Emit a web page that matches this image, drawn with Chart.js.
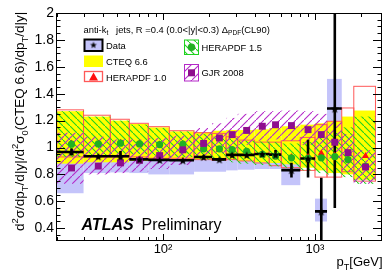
<!DOCTYPE html>
<html><head><meta charset="utf-8">
<script src="https://cdn.jsdelivr.net/npm/chart.js@4/dist/chart.umd.min.js"></script>
<style>html,body{margin:0;padding:0;background:#fff}canvas{display:block}</style>
</head><body>
<canvas id="c" width="389" height="277"></canvas>
<script>
// ---------------- data ----------------
const binEdges = [20,30,45,60,80,110,160,210,260,310,400,500,600,800,1000,1200,1500,1800,2500];

// measured data (first 16 bins)
const dataValues   = [0.967,0.935,0.935,0.912,0.908,0.905,0.93,0.912,0.945,0.945,0.952,0.947,0.832,0.918,0.525,1.29];
const dataStatErr  = [0.025,0.012,0.04,0.02,0.008,0.008,0.012,0.008,0.012,0.012,0.02,0.035,0.055,0.14,0.25,0.74];
const dataSystLow  = [0.66,0.81,0.815,0.81,0.80,0.80,0.82,0.82,0.83,0.835,0.84,0.84,0.72,0.86,0.45,1.05];
const dataSystHigh = [1.25,1.07,1.06,1.03,1.03,1.02,1.06,1.03,1.08,1.08,1.09,1.08,0.95,0.98,0.62,1.51];

// CTEQ 6.6 uncertainty band
const cteqLow  = [0.88,0.89,0.89,0.90,0.90,0.90,0.91,0.91,0.91,0.90,0.89,0.885,0.875,0.85,0.83,0.81,0.80,0.76];
const cteqHigh = [1.27,1.23,1.20,1.175,1.15,1.12,1.115,1.125,1.13,1.13,1.135,1.145,1.158,1.17,1.18,1.195,1.23,1.275];

// HERAPDF 1.0
const hera10Central = [1.03,1.03,1.035,1.03,1.025,1.025,0.99,0.985,0.98,0.97,0.95,0.94,0.93,0.93,0.957,0.94,0.91,0.937];
const hera10Low  = [0.93,0.93,0.93,0.93,0.92,0.92,0.91,0.905,0.91,0.90,0.885,0.865,0.85,0.83,0.78,0.78,0.82,0.75];
const hera10High = [1.28,1.24,1.21,1.18,1.155,1.125,1.11,1.105,1.08,1.055,1.04,1.04,1.05,1.075,1.17,1.195,1.294,1.455];

// HERAPDF 1.5
const hera15Central = [1.025,1.027,1.032,1.027,1.022,1.025,0.99,0.99,0.984,0.972,0.95,0.937,0.923,0.92,0.923,0.932,0.91,0.86];
const hera15Low  = [0.93,0.94,0.95,0.95,0.94,0.93,0.91,0.90,0.89,0.88,0.87,0.86,0.85,0.83,0.81,0.80,0.78,0.73];
const hera15High = [1.27,1.23,1.20,1.17,1.145,1.12,1.10,1.08,1.07,1.05,1.045,1.04,1.03,1.04,1.08,1.12,1.15,1.23];

// GJR 2008
const gjrCentral = [0.848,0.862,0.886,0.905,0.94,0.983,1.03,1.071,1.096,1.127,1.158,1.169,1.163,1.133,1.096,1.039,0.962,0.855];
const gjrLow  = [0.73,0.80,0.81,0.82,0.84,0.87,0.92,0.96,0.99,1.02,1.05,1.06,1.05,1.02,0.98,0.92,0.82,0.73];
const gjrHigh = [1.11,1.08,1.06,1.06,1.07,1.09,1.145,1.18,1.22,1.25,1.27,1.27,1.275,1.27,1.25,1.19,1.10,0.98];

// axes
const yTicks      = [0.4,0.6,0.8,1,1.2,1.4,1.6,1.8,2];
const yTickLabels = ['0.4','0.6','0.8','1','1.2','1.4','1.6','1.8','2'];
const yMinorTicks = [0.35,0.45,0.5,0.55,0.65,0.7,0.75,0.85,0.9,0.95,1.05,1.1,1.15,1.25,1.3,1.35,1.45,1.5,1.55,1.65,1.7,1.75,1.85,1.9,1.95];
const xTicks      = [20,30,40,50,60,70,80,90,100,200,300,400,500,600,700,800,900,1000,2000];
const xMajorTicks = [100,1000];
const xTickLabels = ['10\u00B2','10\u00B3'];

// ---------------- style ----------------
const FONT = '"Liberation Sans", Arial, Helvetica, sans-serif';
const BLUE = 'rgb(196,196,250)';
const YELLOW = '#ffff00';
const RED = '#ff5858';
const RED_MK = '#ff1010';
const GREEN = '#1ed21e';
const GREEN_MK = '#22b022';
const PURPLE = '#b428c8';
const PURPLE_MK = '#8e0e8e';

const binCenters = binEdges.slice(0,-1).map((e,i)=>(e+binEdges[i+1])/2);

function starCanvas(r, color){
  const s = 10;
  const c = document.createElement('canvas'); c.width = c.height = s;
  const g = c.getContext('2d');
  g.fillStyle = color; g.beginPath();
  for (let i=0;i<10;i++){
    const rr = (i%2) ? r*0.42 : r;
    const a = -Math.PI/2 + i*Math.PI/5;
    const px = s/2 + rr*Math.cos(a), py = s/2 + 0.6 + rr*Math.sin(a);
    if (i) g.lineTo(px,py); else g.moveTo(px,py);
  }
  g.closePath(); g.fill();
  return c;
}
const STAR = starCanvas(4.4, '#000');
const STAR_SMALL = starCanvas(3.6, '#000');

function hatch(ctx, color, dir, sp, lw){
  const c = document.createElement('canvas'); c.width = c.height = sp;
  const g = c.getContext('2d'); g.strokeStyle = color; g.lineWidth = lw;
  g.beginPath();
  if (dir === '/') {
    g.moveTo(0, sp); g.lineTo(sp, 0);
  } else {
    g.moveTo(0, 0); g.lineTo(sp, sp);
  }
  g.stroke();
  return ctx.createPattern(c, 'repeat');
}

function drawRich(ctx, x, y, parts, size, weight){
  let cx = x;
  for (const p of parts){
    const s = (p.sub || p.sup) ? size*0.7 : size;
    const dy = p.sub ? size*0.28 : (p.sup ? -size*0.42 : 0);
    ctx.font = (weight||'') + ' ' + s + 'px ' + FONT;
    ctx.fillText(p.t, cx, y + dy);
    cx += ctx.measureText(p.t).width;
  }
  return cx;
}

const ctx = document.getElementById('c').getContext('2d');
const GREEN_H = hatch(ctx, GREEN, '\\', 7, 1.1);
const PURPLE_H = hatch(ctx, PURPLE, '/', 8, 1.1);

const bandsPlugin = {
  id: 'bands',
  beforeDatasetsDraw(chart){
    const {ctx, chartArea: a, scales: {x, y}} = chart;
    const box = (i, lo, hi) => {
      const x0 = x.getPixelForValue(binEdges[i]), x1 = x.getPixelForValue(binEdges[i+1]);
      const y0 = y.getPixelForValue(hi), y1 = y.getPixelForValue(lo);
      return [x0, y0, x1-x0, y1-y0];
    };
    ctx.save();
    ctx.beginPath(); ctx.rect(a.left, a.top, a.right-a.left, a.bottom-a.top); ctx.clip();
    ctx.fillStyle = BLUE;
    dataSystLow.forEach((lo,i)=>ctx.fillRect(...box(i, lo, dataSystHigh[i])));
    ctx.fillStyle = YELLOW;
    cteqLow.forEach((lo,i)=>ctx.fillRect(...box(i, lo, cteqHigh[i])));
    ctx.strokeStyle = RED; ctx.lineWidth = 1;
    hera10Low.forEach((lo,i)=>ctx.strokeRect(...box(i, lo, hera10High[i])));
    ctx.fillStyle = GREEN_H;
    hera15Low.forEach((lo,i)=>ctx.fillRect(...box(i, lo, hera15High[i])));
    ctx.fillStyle = PURPLE_H;
    gjrLow.forEach((lo,i)=>ctx.fillRect(...box(i, lo, gjrHigh[i])));
    // data bars
    ctx.strokeStyle = '#000'; ctx.lineWidth = 2.6;
    ctx.beginPath();
    dataValues.forEach((v,i)=>{
      const x0 = x.getPixelForValue(binEdges[i]), x1 = x.getPixelForValue(binEdges[i+1]);
      const yy = y.getPixelForValue(v);
      ctx.moveTo(x0, yy); ctx.lineTo(x1, yy);
      const xc = x.getPixelForValue(binCenters[i]);
      ctx.moveTo(xc, y.getPixelForValue(v - dataStatErr[i]));
      ctx.lineTo(xc, y.getPixelForValue(v + dataStatErr[i]));
    });
    ctx.stroke();
    ctx.restore();
  },
  afterDraw(chart){
    const {ctx, chartArea: a, scales: {x, y}} = chart;
    ctx.save();
    // frame
    ctx.strokeStyle = '#000'; ctx.lineWidth = 1;
    ctx.strokeRect(Math.round(a.left)+0.5, Math.round(a.top)+0.5, Math.round(a.right-a.left)-1, Math.round(a.bottom-a.top)-1);
    // ticks
    ctx.beginPath();
    const yt = (v, len) => { const p = Math.round(y.getPixelForValue(v))+0.5;
      ctx.moveTo(a.left, p); ctx.lineTo(a.left+len, p); ctx.moveTo(a.right, p); ctx.lineTo(a.right-len, p); };
    yTicks.forEach(v=>yt(v, 9));
    yMinorTicks.forEach(v=>yt(v, 4.5));
    xTicks.forEach(v=>{
      const len = xMajorTicks.includes(v) ? 7 : 4;
      const p = Math.round(x.getPixelForValue(v))+0.5;
      ctx.moveTo(p, a.bottom); ctx.lineTo(p, a.bottom-len);
      ctx.moveTo(p, a.top); ctx.lineTo(p, a.top+len);
    });
    ctx.stroke();

    ctx.fillStyle = '#000';
    ctx.textBaseline = 'alphabetic'; ctx.textAlign = 'left';
    // y title
    ctx.save();
    ctx.translate(24, 231); ctx.rotate(-Math.PI/2);
    drawRich(ctx, 0, 0, [
      {t:'d'},{t:'2',sup:1},{t:'\u03C3/dp'},{t:'T',sub:1},{t:'/d|y|/d'},{t:'2',sup:1},{t:'\u03C3'},{t:'0',sub:1},
      {t:'(CTEQ 6.6)/dp'},{t:'T',sub:1},{t:'/d|y|'}
    ], 13.5);
    ctx.restore();
    // x title
    drawRich(ctx, 336.5, 266, [{t:'p'},{t:'T',sub:1},{t:'[GeV]'}], 13);
    // ATLAS Preliminary
    ctx.font = 'italic bold 16px ' + FONT; ctx.fillText('ATLAS', 81.5, 230);
    ctx.font = '16px ' + FONT; ctx.fillText('Preliminary', 141.5, 230);

    // legend header
    const LF = 9.4;
    drawRich(ctx, 83.5, 32.5, [
      {t:'anti-k'},{t:'t',sub:1},{t:'   jets, R =0.4 (0.0<|y|<0.3) \u0394'},{t:'PDF',sub:1},{t:'(CL90)'}
    ], LF);
    // Data
    ctx.fillStyle = BLUE; ctx.fillRect(84.5, 39.5, 18, 11.5);
    ctx.strokeStyle = '#000'; ctx.lineWidth = 2; ctx.strokeRect(84.5, 39.5, 18, 11.5);
    ctx.drawImage(STAR_SMALL, 93.5-5, 45.2-5.6);
    // CTEQ
    ctx.fillStyle = YELLOW; ctx.fillRect(84, 55.5, 19, 11.5);
    // HERAPDF 1.0
    ctx.strokeStyle = RED; ctx.lineWidth = 1.3;
    ctx.strokeRect(84.5, 71.5, 18, 10);
    ctx.fillStyle = RED_MK; ctx.beginPath();
    ctx.moveTo(93.5, 72.5); ctx.lineTo(98, 80.5); ctx.lineTo(89, 80.5); ctx.closePath(); ctx.fill();
    // HERAPDF 1.5
    ctx.fillStyle = GREEN_H; ctx.fillRect(184.5, 40, 14, 14.5);
    ctx.strokeStyle = GREEN; ctx.lineWidth = 1; ctx.strokeRect(184.5, 40, 14, 14.5);
    ctx.fillStyle = GREEN_MK; ctx.beginPath(); ctx.arc(191.5, 47.3, 3.8, 0, 2*Math.PI); ctx.fill();
    // GJR 2008
    ctx.fillStyle = PURPLE_H; ctx.fillRect(184.5, 64.5, 14, 16.5);
    ctx.strokeStyle = PURPLE; ctx.lineWidth = 1; ctx.strokeRect(184.5, 64.5, 14, 16.5);
    ctx.fillStyle = PURPLE_MK; ctx.fillRect(188, 69.3, 7, 7);

    ctx.fillStyle = '#000';
    ctx.font = LF + 'px ' + FONT;
    ctx.fillText('Data', 106, 48.5);
    ctx.fillText('CTEQ 6.6', 106, 64.5);
    ctx.fillText('HERAPDF 1.0', 106, 80.5);
    ctx.fillText('HERAPDF 1.5', 201.5, 51);
    ctx.fillText('GJR 2008', 201.5, 76);
    ctx.restore();
  }
};

new Chart(ctx, {
  type: 'scatter',
  data: {
    datasets: [
      { label: 'Data', data: dataValues.map((v,i)=>({x: binCenters[i], y: v})),
        pointStyle: STAR, pointRadius: 5, showLine: false },
      { label: 'GJR 2008', data: gjrCentral.map((v,i)=>({x: binCenters[i], y: v})),
        pointStyle: 'rect', pointRadius: 4.9, backgroundColor: PURPLE_MK, borderColor: PURPLE_MK, borderWidth: 0, showLine: false },
      { label: 'HERAPDF 1.5', data: hera15Central.map((v,i)=>({x: binCenters[i], y: v})),
        pointStyle: 'circle', pointRadius: 3.6, backgroundColor: GREEN_MK, borderColor: GREEN_MK, borderWidth: 0, showLine: false },
      { label: 'HERAPDF 1.0', data: hera10Central.map((v,i)=>({x: binCenters[i], y: v})),
        pointStyle: 'triangle', pointRadius: 4, backgroundColor: RED_MK, borderColor: RED_MK, borderWidth: 0, showLine: false }
    ]
  },
  options: {
    responsive: false, animation: false, events: [],
    layout: { padding: { left: 0, right: 7, top: 13, bottom: 0 } },
    plugins: { legend: { display: false }, tooltip: { enabled: false } },
    scales: {
      x: {
        type: 'logarithmic', min: 19.76, max: 2760,
        grid: { display: false, drawTicks: false }, border: { display: false },
        afterBuildTicks: s => { s.ticks = xTicks.map(v=>({value: v})); },
        afterFit: s => { s.height = 36; },
        ticks: { autoSkip: false, maxRotation: 0, minRotation: 0, padding: 1, color: '#000',
          font: { family: FONT, size: 13 },
          callback: (v) => { const k = xMajorTicks.indexOf(v); return k >= 0 ? xTickLabels[k] : ''; } }
      },
      y: {
        type: 'linear', min: 0.305, max: 2.0,
        grid: { display: false, drawTicks: false }, border: { display: false },
        afterBuildTicks: s => { s.ticks = yTicks.map(v=>({value: v})); },
        afterFit: s => { s.width = 56; },
        ticks: { padding: 2, color: '#000', font: { family: FONT, size: 14 },
          callback: (v) => { const k = yTicks.indexOf(v); return k >= 0 ? yTickLabels[k] : ''; } }
      }
    }
  },
  plugins: [bandsPlugin]
});
</script>
</body></html>
